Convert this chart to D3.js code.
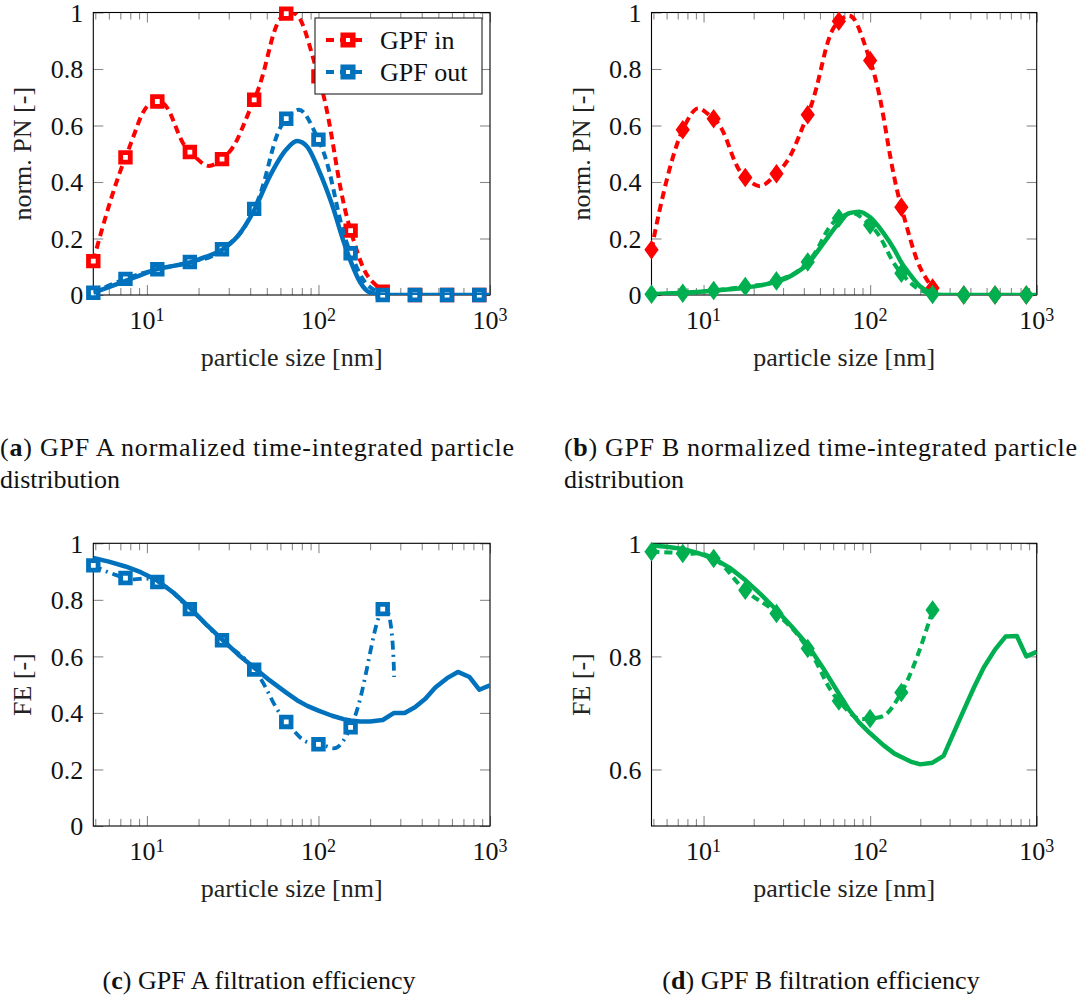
<!DOCTYPE html>
<html>
<head>
<meta charset="utf-8">
<script src="https://cdn.jsdelivr.net/npm/d3@7"></script>
<style>
  body { margin: 0; background: #fff; }
  svg { display: block; font-family: "Liberation Serif", "Times New Roman", serif; }
</style>
</head>
<body>
<div id="chart"></div>
<script>
// particle size channels [nm]
const sizes = [4.87, 7.5, 11.5, 17.8, 27.4, 42.2, 64.9, 100, 154, 237, 365, 562, 866];

// normalized PN, measured
const pnInA  = [0.12, 0.487, 0.685, 0.506, 0.481, 0.691, 0.996, 0.774, 0.228, 0.012, 0, 0, 0];
const pnOutA = [0.008, 0.057, 0.091, 0.117, 0.162, 0.305, 0.624, 0.55, 0.148, 0, 0, 0, 0];
const pnInB  = [0.16, 0.585, 0.624, 0.416, 0.429, 0.638, 0.969, 0.83, 0.311, 0.025, 0, 0, 0];
const pnOutB = [0.003, 0.006, 0.016, 0.03, 0.05, 0.117, 0.272, 0.248, 0.077, 0.002, 0, 0, 0];

// measured FE (only where inlet PN > 0)
const feSizes = [4.87, 7.5, 11.5, 17.8, 27.4, 42.2, 64.9, 100, 154, 237];
const feMeasA = [0.922, 0.877, 0.863, 0.767, 0.657, 0.553, 0.368, 0.289, 0.349, 0.767];
const feMeasB = [0.985, 0.982, 0.973, 0.917, 0.876, 0.814, 0.721, 0.69, 0.736, 0.882];
const feTailSizeA = 276;   // dash-dot line of GPF A runs on past the last mark
const feTailA = 0.527;

// simulation grid and results
const simSizes = [4.87, 6, 7.5, 9.2, 11.5, 14.3, 17.8, 22, 27.4, 34, 42.2, 52, 64.9, 75, 86, 100,
                  120, 140, 154, 175, 200, 237, 276, 318, 365, 420, 480, 562, 650, 760, 866, 1000];
const simPnA = [0.008, 0.028, 0.05, 0.07, 0.092, 0.103, 0.115, 0.135, 0.16, 0.21, 0.3, 0.42, 0.515, 0.545,
                0.525, 0.445, 0.32, 0.19, 0.12, 0.045, 0.008, 0, 0, 0, 0, 0, 0, 0, 0, 0, 0, 0];
const simPnB = [0.003, 0.005, 0.008, 0.011, 0.015, 0.02, 0.026, 0.034, 0.047, 0.07, 0.11, 0.18, 0.255, 0.29,
                0.295, 0.275, 0.22, 0.16, 0.115, 0.07, 0.03, 0.006, 0, 0, 0, 0, 0, 0, 0, 0, 0, 0];
const simFeA = [0.948, 0.935, 0.918, 0.898, 0.868, 0.825, 0.772, 0.715, 0.66, 0.607, 0.56, 0.515, 0.472, 0.445,
                0.425, 0.408, 0.39, 0.378, 0.373, 0.37, 0.37, 0.375, 0.4, 0.4, 0.42, 0.45, 0.49, 0.523,
                0.545, 0.527, 0.482, 0.498];
const simFeB = [0.996, 0.994, 0.99, 0.983, 0.973, 0.957, 0.935, 0.91, 0.882, 0.852, 0.82, 0.78, 0.734, 0.705,
                0.683, 0.664, 0.643, 0.628, 0.622, 0.614, 0.609, 0.612, 0.624, 0.665, 0.705, 0.745, 0.78,
                0.812, 0.835, 0.836, 0.8, 0.808];

const xTickLabels = [[10, '1'], [100, '2'], [1000, '3']];
const legendNames = ['GPF in', 'GPF out'];

const RED = '#ff0000';
const BLUE = '#0072bd';
const GREEN = '#00b050';
const TICK = '#8a8a8a';

const svg = d3.select('#chart').append('svg')
    .attr('width', 1079)
    .attr('height', 999);

// pgfplots "smooth" look-alike
const smooth = d3.curveCardinal.tension(-0.42);
const zip = (xs, ys) => xs.map((x, i) => [x, ys[i]]);

function drawPanel(p) {
  const x = d3.scaleLog().domain([4.87, 1000]).range([p.left, p.right]);
  const y = d3.scaleLinear().domain(p.yDomain).range([p.bottom, p.top]);

  const g = svg.append('g').attr('class', `panel-${p.id}`);

  g.append('clipPath').attr('id', `clip-${p.id}`)
    .append('rect')
      .attr('x', p.left).attr('y', p.top)
      .attr('width', p.right - p.left).attr('height', p.bottom - p.top);

  // ticks (inward, both sides)
  const all = x.ticks();
  const major = all.filter(d => Math.abs(Math.log10(d) - Math.round(Math.log10(d))) < 1e-9);
  const minor = all.filter(d => !major.includes(d));

  const tickAxes = [
    [d3.axisBottom(x).tickValues(major).tickSize(-10), p.bottom],
    [d3.axisBottom(x).tickValues(minor).tickSize(-7), p.bottom],
    [d3.axisTop(x).tickValues(major).tickSize(-10), p.top],
    [d3.axisTop(x).tickValues(minor).tickSize(-7), p.top]
  ];
  tickAxes.forEach(([ax, ty]) => {
    g.append('g')
      .attr('transform', `translate(0, ${ty})`)
      .call(ax.tickFormat(''))
      .call(s => s.select('.domain').remove())
      .call(s => s.selectAll('line').attr('stroke', TICK).attr('stroke-width', 1.1));
  });

  const fmt = d => (d === 0 || d === 1) ? String(d) : d3.format('.1f')(d);
  g.append('g')
    .attr('transform', `translate(${p.left}, 0)`)
    .call(d3.axisLeft(y).tickValues(p.yTicks).tickSize(-10).tickPadding(10).tickFormat(fmt))
    .call(s => s.select('.domain').remove())
    .call(s => s.selectAll('line').attr('stroke', TICK).attr('stroke-width', 1.1))
    .call(s => s.selectAll('text')
      .attr('font-family', '"Liberation Serif", "Times New Roman", serif')
      .attr('font-size', 26).attr('fill', '#111').attr('dy', '0.34em'));
  g.append('g')
    .attr('transform', `translate(${p.right}, 0)`)
    .call(d3.axisRight(y).tickValues(p.yTicks).tickSize(-10).tickFormat(''))
    .call(s => s.select('.domain').remove())
    .call(s => s.selectAll('line').attr('stroke', TICK).attr('stroke-width', 1.1));

  // x tick labels 10^k
  const xl = g.selectAll('.xlab')
    .data(xTickLabels)
    .enter().append('text')
      .attr('class', 'xlab')
      .attr('x', d => x(d[0]))
      .attr('y', p.bottom + 34)
      .attr('text-anchor', 'middle')
      .attr('font-size', 26)
      .attr('fill', '#111');
  xl.append('tspan').text('10');
  xl.append('tspan').attr('dy', -8).attr('font-size', 18).text(d => d[1]);

  // frame
  g.append('rect')
    .attr('x', p.left).attr('y', p.top)
    .attr('width', p.right - p.left).attr('height', p.bottom - p.top)
    .attr('fill', 'none').attr('stroke', '#000').attr('stroke-width', 1.1);

  // axis titles
  g.append('text')
    .attr('x', (p.left + p.right) / 2)
    .attr('y', p.bottom + 71)
    .attr('text-anchor', 'middle')
    .attr('font-size', 26)
    .attr('fill', '#222')
    .text('particle size [nm]');
  g.append('text')
    .attr('transform', `translate(${p.left - 62}, ${(p.top + p.bottom) / 2}) rotate(-90)`)
    .attr('text-anchor', 'middle')
    .attr('font-size', 26)
    .attr('fill', '#222')
    .text(p.ylabel);

  // series
  p.series.forEach(s => {
    const line = d3.line()
      .curve(s.curve)
      .x(d => x(d[0]))
      .y(d => y(d[1]));
    g.append('path')
      .attr('clip-path', `url(#clip-${p.id})`)
      .attr('d', line(s.line))
      .attr('fill', 'none')
      .attr('stroke', s.color)
      .attr('stroke-width', s.width)
      .attr('stroke-dasharray', s.dash || null)
      .attr('stroke-linejoin', 'round');
    if (s.marks) {
      g.selectAll(null)
        .data(s.marks)
        .enter().append('path')
          .attr('transform', d => `translate(${x(d[0])}, ${y(d[1])})`)
          .attr('d', markerPath(s.marker))
          .attr('fill', s.marker === 'square' ? '#fff' : s.color)
          .attr('stroke', s.color)
          .attr('stroke-width', s.marker === 'square' ? 4.8 : 1.5)
          .attr('stroke-linejoin', 'miter');
    }
  });

  if (p.legend) drawLegend(g, p.legend);
}

function markerPath(type) {
  if (type === 'square') return 'M-4.8,-4.8H4.8V4.8H-4.8Z';
  return 'M0,-8.5L6.2,0L0,8.5L-6.2,0Z';
}

function drawLegend(g, entries) {
  const lg = g.append('g');
  lg.append('rect')
    .attr('x', 315).attr('y', 18)
    .attr('width', 167).attr('height', 76)
    .attr('fill', '#fff').attr('stroke', '#222').attr('stroke-width', 1.1);
  entries.forEach((e, i) => {
    const cy = 40 + i * 32;
    lg.append('line')
      .attr('x1', 326).attr('x2', 366).attr('y1', cy).attr('y2', cy)
      .attr('stroke', e.color).attr('stroke-width', 4)
      .attr('stroke-dasharray', '8,6');
    lg.append('path')
      .attr('transform', `translate(348, ${cy})`)
      .attr('d', markerPath('square'))
      .attr('fill', '#fff').attr('stroke', e.color).attr('stroke-width', 5.5);
    lg.append('text')
      .attr('x', 380).attr('y', cy + 9)
      .attr('font-size', 26).attr('fill', '#111')
      .text(e.name);
  });
}

const pnTicks = [0, 0.2, 0.4, 0.6, 0.8, 1];

drawPanel({
  id: 'a', left: 93.3, right: 490, top: 12.5, bottom: 295,
  yDomain: [0, 1], yTicks: pnTicks, ylabel: 'norm. PN [-]',
  series: [
    {line: zip(sizes, pnInA), marks: zip(sizes, pnInA), marker: 'square', color: RED, width: 4, dash: '8,5', curve: smooth},
    {line: zip(sizes, pnOutA), marks: zip(sizes, pnOutA), marker: 'square', color: BLUE, width: 4, dash: '8,5', curve: smooth},
    {line: zip(simSizes, simPnA), color: BLUE, width: 4.5, curve: d3.curveMonotoneX}
  ],
  legend: [{name: legendNames[0], color: RED}, {name: legendNames[1], color: BLUE}]
});

drawPanel({
  id: 'b', left: 651.5, right: 1036.7, top: 12.5, bottom: 295,
  yDomain: [0, 1], yTicks: pnTicks, ylabel: 'norm. PN [-]',
  series: [
    {line: zip(sizes, pnInB), marks: zip(sizes, pnInB), marker: 'diamond', color: RED, width: 4, dash: '8,5', curve: smooth},
    {line: zip(sizes, pnOutB), marks: zip(sizes, pnOutB), marker: 'diamond', color: GREEN, width: 4, dash: '8,5', curve: smooth},
    {line: zip(simSizes, simPnB), color: GREEN, width: 4.5, curve: d3.curveMonotoneX}
  ]
});

drawPanel({
  id: 'c', left: 93.3, right: 490, top: 543.3, bottom: 826,
  yDomain: [0, 1], yTicks: pnTicks, ylabel: 'FE [-]',
  series: [
    {line: zip(feSizes, feMeasA).concat([[feTailSizeA, feTailA]]), marks: zip(feSizes, feMeasA),
     marker: 'square', color: BLUE, width: 3.8, dash: '9,5,2,5', curve: smooth},
    {line: zip(simSizes, simFeA), color: BLUE, width: 4.5, curve: d3.curveLinear}
  ]
});

drawPanel({
  id: 'd', left: 651.5, right: 1036.7, top: 543.3, bottom: 826,
  yDomain: [0.5, 1], yTicks: [0.6, 0.8, 1], ylabel: 'FE [-]',
  series: [
    {line: zip(feSizes, feMeasB), marks: zip(feSizes, feMeasB), marker: 'diamond', color: GREEN, width: 4, dash: '8,5', curve: smooth},
    {line: zip(simSizes, simFeB), color: GREEN, width: 4.5, curve: d3.curveLinear}
  ]
});

// sub-captions
function caption(x, y, letter, rest, width, anchor) {
  const t = svg.append('text')
    .attr('x', x).attr('y', y)
    .attr('font-size', 26)
    .attr('fill', '#111')
    .attr('text-anchor', anchor || 'start');
  if (width) t.attr('textLength', width).attr('lengthAdjust', 'spacing');
  t.append('tspan').text('(');
  t.append('tspan').attr('font-weight', 'bold').text(letter);
  t.append('tspan').text(') ' + rest);
  return t;
}

caption(0, 456, 'a', 'GPF A normalized time-integrated particle', 514);
svg.append('text').attr('x', 0).attr('y', 488).attr('font-size', 26).attr('fill', '#111').text('distribution');
caption(564, 456, 'b', 'GPF B normalized time-integrated particle', 513);
svg.append('text').attr('x', 564).attr('y', 488).attr('font-size', 26).attr('fill', '#111').text('distribution');
caption(259, 989, 'c', 'GPF A filtration efficiency', null, 'middle');
caption(821, 989, 'd', 'GPF B filtration efficiency', null, 'middle');
</script>
</body>
</html>
